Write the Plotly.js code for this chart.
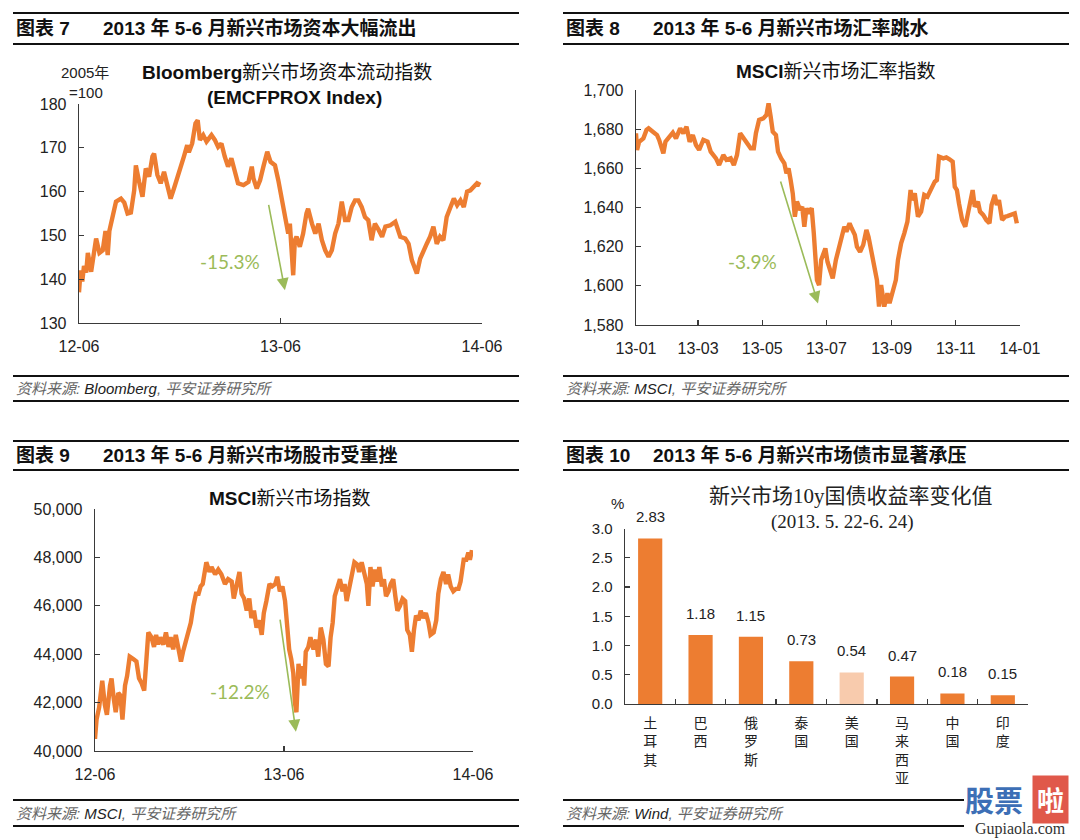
<!DOCTYPE html>
<html>
<head>
<meta charset="utf-8">
<script src="https://cdn.plot.ly/plotly-3.0.1.min.js"></script>
<style>html,body{margin:0;padding:0;background:#fff;}#chart{width:1080px;height:840px;}</style>
</head>
<body>
<div id="chart"></div>
<script>
// ---------- Panel 7: Bloomberg EM capital flow index ----------
const p1Dates = [
 '2012-06-01','2012-06-04','2012-06-07','2012-06-10','2012-06-14','2012-06-17','2012-06-23','2012-06-29',
 '2012-07-02','2012-07-08','2012-07-14','2012-07-19','2012-07-23','2012-07-26',
 '2012-08-01','2012-08-07','2012-08-16','2012-08-22','2012-08-28',
 '2012-09-03','2012-09-09','2012-09-12','2012-09-18','2012-09-24','2012-09-30',
 '2012-10-06','2012-10-12','2012-10-15','2012-10-21','2012-10-27',
 '2012-11-02','2012-11-08','2012-11-14','2012-11-20','2012-11-29',
 '2012-12-08','2012-12-14','2012-12-17','2012-12-23','2012-12-29',
 '2013-01-02','2013-01-06','2013-01-12','2013-01-18','2013-01-27',
 '2013-02-02','2013-02-08','2013-02-14','2013-02-20','2013-02-26',
 '2013-03-04','2013-03-10','2013-03-16','2013-03-26',
 '2013-04-04','2013-04-10','2013-04-13','2013-04-19','2013-04-25',
 '2013-05-01','2013-05-08','2013-05-14','2013-05-22','2013-05-28',
 '2013-06-03','2013-06-09','2013-06-12','2013-06-15','2013-06-18','2013-06-21','2013-06-24','2013-06-27','2013-06-30',
 '2013-07-06','2013-07-12','2013-07-18','2013-07-21','2013-07-28',
 '2013-08-03','2013-08-09','2013-08-15','2013-08-21','2013-08-27',
 '2013-09-02','2013-09-08','2013-09-14','2013-09-20','2013-09-26',
 '2013-10-02','2013-10-08','2013-10-14','2013-10-20','2013-10-26',
 '2013-11-01','2013-11-07','2013-11-13','2013-11-19','2013-11-26',
 '2013-12-02','2013-12-08','2013-12-17','2013-12-26',
 '2014-01-04','2014-01-13','2014-01-19','2014-01-25','2014-01-31',
 '2014-02-03','2014-02-09','2014-02-15','2014-02-21','2014-02-27',
 '2014-03-05','2014-03-11','2014-03-17','2014-03-23','2014-03-29',
 '2014-04-05','2014-04-11','2014-04-17','2014-04-23','2014-04-29',
 '2014-05-05','2014-05-11','2014-05-17','2014-05-23','2014-05-29'
];
const p1Values = [
 137.0,142.0,139.5,143.0,141.5,146.0,141.7,147.0,
 149.3,146.0,146.6,151.0,145.5,151.0,
 155.0,157.7,158.4,157.5,155.0,
 155.2,160.3,166.0,162.2,158.8,165.3,
 163.4,168.0,168.7,163.8,161.9,
 164.5,161.5,158.4,160.7,164.1,
 168.0,170.6,169.0,171.0,175.6,
 176.3,171.8,172.9,171.4,172.9,
 171.8,170.2,171.0,168.0,165.7,
 167.6,164.9,161.9,161.5,
 162.2,165.7,163.0,160.7,162.6,
 165.7,169.1,166.8,166.0,162.6,
 158.8,155.0,153.5,150.4,152.7,145.1,140.9,148.9,149.7,
 147.4,150.4,155.0,156.1,152.7,
 150.4,152.7,148.9,146.6,145.1,
 146.6,150.4,152.7,157.7,153.5,
 153.5,156.5,158.0,158.0,156.5,
 154.2,153.5,148.9,152.7,151.2,
 149.7,152.0,152.3,153.1,
 149.7,149.3,148.1,144.3,142.4,
 141.3,144.7,146.6,148.1,149.7,
 152.0,148.1,149.7,148.9,154.2,
 156.5,158.4,156.9,158.0,156.5,
 160.0,160.3,161.1,161.9,161.5
];
const p1Arrow = {fromDate:'2013-05-10', fromVal:157.3, toDate:'2013-06-09', toVal:137.5, label:'-15.3%', labelDate:'2013-03-01', labelVal:144};

// ---------- Panel 8: MSCI EM currency index ----------
const p2Dates = [
 '2013-01-01','2013-01-02','2013-01-04','2013-01-08','2013-01-11','2013-01-13','2013-01-17','2013-01-21','2013-01-23','2013-01-27','2013-01-29',
 '2013-02-02','2013-02-05','2013-02-08','2013-02-12','2013-02-15','2013-02-18','2013-02-21','2013-02-24','2013-02-27',
 '2013-03-02','2013-03-06','2013-03-10','2013-03-13','2013-03-18','2013-03-21','2013-03-25','2013-03-28',
 '2013-04-01','2013-04-04','2013-04-07','2013-04-10','2013-04-13','2013-04-16','2013-04-20','2013-04-23','2013-04-25','2013-04-28',
 '2013-05-02','2013-05-05','2013-05-07','2013-05-09','2013-05-11','2013-05-14','2013-05-16','2013-05-19','2013-05-22','2013-05-24','2013-05-26','2013-05-28','2013-05-30',
 '2013-06-01','2013-06-03','2013-06-06','2013-06-08','2013-06-10','2013-06-12','2013-06-14','2013-06-16','2013-06-17','2013-06-19','2013-06-21','2013-06-22','2013-06-24','2013-06-26','2013-06-30',
 '2013-07-02','2013-07-05','2013-07-07','2013-07-10','2013-07-13','2013-07-15','2013-07-18','2013-07-20','2013-07-23','2013-07-25','2013-07-28','2013-07-30',
 '2013-08-02','2013-08-05','2013-08-08','2013-08-10','2013-08-13','2013-08-15','2013-08-18','2013-08-20','2013-08-22','2013-08-25','2013-08-28','2013-08-30',
 '2013-09-02','2013-09-05','2013-09-07','2013-09-10','2013-09-13','2013-09-16','2013-09-19','2013-09-20','2013-09-23','2013-09-26','2013-09-29',
 '2013-10-02','2013-10-05','2013-10-09','2013-10-12','2013-10-14','2013-10-16','2013-10-20','2013-10-23','2013-10-26','2013-10-29','2013-10-31',
 '2013-11-02','2013-11-04','2013-11-07','2013-11-10','2013-11-13','2013-11-17','2013-11-19','2013-11-22','2013-11-24','2013-11-27','2013-11-30',
 '2013-12-03','2013-12-05','2013-12-08','2013-12-10','2013-12-12','2013-12-15','2013-12-18','2013-12-20','2013-12-24','2013-12-27','2013-12-29'
];
const p2Values = [
 1677.9,1669.4,1673.6,1675.3,1679.6,1680.4,1678.7,1677.0,1674.5,1667.7,1673.6,
 1676.2,1678.2,1675.3,1680.4,1677.9,1681.3,1673.6,1677.0,1671.9,
 1669.4,1674.5,1673.6,1668.5,1665.1,1661.7,1666.8,1664.3,
 1665.1,1661.7,1666.8,1677.9,1675.3,1672.8,1670.2,1670.2,1677.9,1684.7,
 1685.5,1687.2,1693.2,1686.4,1678.7,1677.0,1668.5,1665.1,1662.6,1657.4,1660.0,1654.0,1647.2,
 1635.3,1643.0,1638.7,1640.4,1630.2,1639.6,1637.0,1639.6,1639.6,1626.8,1609.8,1603.0,1600.4,1613.2,1619.1,
 1612.3,1607.2,1603.8,1613.2,1620.0,1625.1,1630.2,1627.7,1631.9,1629.4,1626.0,1620.0,
 1617.4,1620.9,1628.5,1625.1,1617.4,1609.8,1603.0,1589.4,1600.4,1589.4,1596.2,1591.1,
 1597.0,1603.0,1613.2,1621.7,1626.8,1632.8,1648.9,1643.8,1647.2,1635.3,1637.9,
 1646.4,1645.5,1650.6,1653.2,1654.0,1666.0,1665.1,1665.6,1664.6,1663.4,1650.6,
 1648.9,1642.1,1633.6,1630.2,1638.7,1648.9,1640.4,1643.0,1637.9,1636.2,1633.6,
 1631.9,1641.3,1646.4,1641.3,1643.8,1633.6,1635.3,1635.6,1636.2,1637.0,1631.9
];
const p2Arrow = {fromDate:'2013-05-18', fromVal:1654, toDate:'2013-06-23', toVal:1591, label:'-3.9%', labelDate:'2013-04-22', labelVal:1612.3};

// ---------- Panel 9: MSCI EM index ----------
const p3Dates = [
 '2012-06-01','2012-06-04','2012-06-09','2012-06-15','2012-06-20','2012-06-24','2012-06-30',
 '2012-07-03','2012-07-07','2012-07-11','2012-07-16','2012-07-20','2012-07-24','2012-07-29',
 '2012-08-02','2012-08-07','2012-08-14','2012-08-20','2012-08-25','2012-08-30',
 '2012-09-04','2012-09-08','2012-09-12','2012-09-18','2012-09-23','2012-09-27',
 '2012-10-01','2012-10-05','2012-10-11','2012-10-16','2012-10-21','2012-10-25','2012-10-30',
 '2012-11-04','2012-11-09','2012-11-14','2012-11-18','2012-11-24','2012-11-28',
 '2012-12-03','2012-12-08','2012-12-13','2012-12-18','2012-12-22','2012-12-26','2012-12-31',
 '2013-01-02','2013-01-08','2013-01-12','2013-01-19','2013-01-25','2013-01-31',
 '2013-02-07','2013-02-13','2013-02-20','2013-02-24',
 '2013-03-01','2013-03-07','2013-03-11','2013-03-16','2013-03-21','2013-03-26','2013-03-30',
 '2013-04-04','2013-04-09','2013-04-14','2013-04-19','2013-04-23','2013-04-28',
 '2013-05-04','2013-05-09','2013-05-15','2013-05-19','2013-05-24','2013-05-29',
 '2013-06-03','2013-06-07','2013-06-11','2013-06-15','2013-06-19','2013-06-22','2013-06-25','2013-06-29',
 '2013-07-03','2013-07-07','2013-07-10','2013-07-13','2013-07-18','2013-07-22','2013-07-28',
 '2013-08-02','2013-08-06','2013-08-11','2013-08-16','2013-08-21','2013-08-26','2013-08-30',
 '2013-09-03','2013-09-07','2013-09-12','2013-09-17','2013-09-22','2013-09-26','2013-09-30',
 '2013-10-05','2013-10-10','2013-10-15','2013-10-21','2013-10-24','2013-10-29',
 '2013-11-03','2013-11-08','2013-11-11','2013-11-15','2013-11-19','2013-11-24','2013-11-28',
 '2013-12-02','2013-12-07','2013-12-11','2013-12-15','2013-12-20','2013-12-24','2013-12-29',
 '2014-01-02','2014-01-06','2014-01-11','2014-01-16','2014-01-21','2014-01-25','2014-01-30',
 '2014-02-03','2014-02-07','2014-02-11','2014-02-16','2014-02-20','2014-02-25',
 '2014-03-02','2014-03-07','2014-03-11','2014-03-17','2014-03-22','2014-03-26','2014-03-31',
 '2014-04-05','2014-04-10','2014-04-14','2014-04-19','2014-04-24','2014-04-29',
 '2014-05-04','2014-05-08','2014-05-14','2014-05-19','2014-05-23','2014-05-26','2014-05-30'
];
const p3Values = [
 40500,41300,41800,42900,41900,41500,42700,
 43000,42200,41600,42400,42300,41300,42700,
 43100,43900,43800,43700,43000,42800,
 42500,43500,44900,44700,44300,44800,
 44400,44700,44400,44900,44300,44700,44200,
 44800,44300,43700,44100,44600,45000,
 45300,46000,46500,46500,46800,46900,47500,
 47800,47400,47600,47300,47500,47300,
 46900,47100,47000,46300,
 46800,47400,46500,46300,45800,46300,45500,
 45800,45100,45400,44800,45700,46200,
 46900,46800,46900,47200,46600,46800,
 46200,45200,44200,43800,43200,42000,41600,43600,
 43000,43500,42700,44100,44300,44700,44200,
 44600,43900,45100,44600,43600,43500,44700,
 45300,46400,46800,47100,46600,46900,46200,
 46700,47300,47800,47700,47400,47800,
 47300,46900,46000,47600,46800,47500,47000,
 47600,46800,47100,46400,46600,46900,47100,
 46400,45800,46000,46300,46200,45000,44800,
 44100,45000,45600,45400,45800,45500,
 45700,45300,44800,44900,45400,46500,47100,
 47400,46900,47300,46800,46600,46700,
 46700,47000,47900,47900,48200,47900,48300
];
const p3Arrow = {fromDate:'2013-05-24', fromVal:45490, toDate:'2013-06-24', toVal:40800, label:'-12.2%', labelDate:'2013-03-08', labelVal:42455};

// ---------- Panel 10: EM 10y government bond yield change ----------
const p4Countries = ['土耳其','巴西','俄罗斯','泰国','美国','马来西亚','中国','印度'];
const p4Values = [2.83, 1.18, 1.15, 0.73, 0.54, 0.47, 0.18, 0.15];
const p4Highlight = '美国';

// ---------- Texts ----------
const headers = [
  {num:'图表 7', text:'2013 年 5-6 月新兴市场资本大幅流出'},
  {num:'图表 8', text:'2013 年 5-6 月新兴市场汇率跳水'},
  {num:'图表 9', text:'2013 年 5-6 月新兴市场股市受重挫'},
  {num:'图表 10', text:'2013 年 5-6 月新兴市场债市显著承压'}
];
const sources = ['Bloomberg', 'MSCI', 'MSCI', 'Wind'];

// ---------- Styling / layout helpers ----------
const W = 1080, H = 840;
const px = x => x / W;
const py = y => 1 - y / H;
const SANS = 'Liberation Sans, Arial, "Noto Sans CJK SC", sans-serif';
const SERIF = 'Liberation Serif, "Times New Roman", "Noto Sans CJK SC", serif';
const ORANGE = '#ED7D31';
const LIGHT = '#F8CBAD';
const GREEN = '#9BBB59';
const AXC = '#3a3a3a';
const TXT = '#222222';

function lineTrace(x, y, xa, ya) {
  return {x: x, y: y, xaxis: xa, yaxis: ya, type: 'scatter', mode: 'lines',
          line: {color: ORANGE, width: 4.4}, hoverinfo: 'skip'};
}
const traces = [
  lineTrace(p1Dates, p1Values, 'x', 'y'),
  lineTrace(p2Dates, p2Values, 'x2', 'y2'),
  lineTrace(p3Dates, p3Values, 'x3', 'y3'),
  {x: p4Countries, y: p4Values, xaxis: 'x4', yaxis: 'y4', type: 'bar',
   marker: {color: p4Countries.map(c => c === p4Highlight ? LIGHT : ORANGE)},
   width: 0.48, hoverinfo: 'skip'}
];

function axisBase(extra) {
  return Object.assign({
    showline: true, linecolor: AXC, linewidth: 1.3, showgrid: false, zeroline: false,
    ticks: 'inside', ticklen: 5, tickwidth: 1.3, tickcolor: AXC,
    tickfont: {family: SANS, size: 16, color: TXT}, fixedrange: true
  }, extra);
}

const layout = {
  width: W, height: H, margin: {l: 0, r: 0, t: 0, b: 0},
  paper_bgcolor: '#ffffff', plot_bgcolor: 'rgba(0,0,0,0)', showlegend: false,
  font: {family: SANS, color: TXT},
  xaxis: axisBase({domain: [px(79), px(482)], anchor: 'y', type: 'date',
    range: ['2012-06-01', '2014-06-01'], tick0: '2012-06-01', dtick: 'M12', tickformat: '%y-%m', ticklabelstandoff: 8}),
  yaxis: axisBase({domain: [py(323), py(104)], anchor: 'x', range: [130, 180], dtick: 10, ticklabelstandoff: 8}),
  xaxis2: axisBase({domain: [px(636), px(1020)], anchor: 'y2', type: 'date',
    range: ['2013-01-01', '2014-01-01'], tick0: '2013-01-01', dtick: 'M2', tickformat: '%y-%m', ticklabelstandoff: 8}),
  yaxis2: axisBase({domain: [py(325), py(90)], anchor: 'x2', range: [1580, 1700], dtick: 20, tickformat: ',d', ticklabelstandoff: 8}),
  xaxis3: axisBase({domain: [px(95), px(473)], anchor: 'y3', type: 'date',
    range: ['2012-06-01', '2014-06-01'], tick0: '2012-06-01', dtick: 'M12', tickformat: '%y-%m', ticklabelstandoff: 8}),
  yaxis3: axisBase({domain: [py(751), py(509)], anchor: 'x3', range: [40000, 50000], dtick: 2000, tickformat: ',d', ticklabelstandoff: 8}),
  xaxis4: axisBase({domain: [px(625), px(1028)], anchor: 'y4', type: 'category', range: [-0.5, 7.5],
    tickson: 'boundaries', tickvals: p4Countries, ticktext: p4Countries.map(c => c.split('').join('<br>')),
    tickfont: {family: '"Noto Sans CJK SC", sans-serif', size: 14, color: TXT}, ticklabelstandoff: 6}),
  yaxis4: axisBase({domain: [py(704), py(528.5)], anchor: 'x4', range: [0, 3], dtick: 0.5, tickformat: '.1f',
    tickfont: {family: SANS, size: 15, color: TXT}, ticklabelstandoff: 8}),
  bargap: 0.52,
  shapes: [],
  annotations: []
};

// header / footer rules
const panelX = [[13, 519], [563, 1069], [13, 519], [563, 1069]];
const headerY = [[13, 44], [13, 44], [441, 470], [441, 470]];
const footerY = [[376, 401], [376, 401], [800, 826], [800, 826]];
function hline(x0, x1, y) {
  layout.shapes.push({type: 'line', xref: 'paper', yref: 'paper', x0: px(x0), x1: px(x1), y0: py(y), y1: py(y),
    line: {color: '#111', width: 2}});
}
for (let i = 0; i < 4; i++) {
  const [xa, xb] = panelX[i];
  hline(xa, xb, headerY[i][0]); hline(xa, xb, headerY[i][1]);
  const fEnd = i === 3 ? 964 : xb;
  hline(xa, fEnd, footerY[i][0]); hline(xa, fEnd, footerY[i][1]);
  const hy = (headerY[i][0] + headerY[i][1]) / 2;
  layout.annotations.push({xref: 'paper', yref: 'paper', x: px(xa + 1), y: py(hy), xanchor: 'left', yanchor: 'middle',
    showarrow: false, text: '<b>' + headers[i].num + '</b>', font: {family: SANS, size: 19, color: '#111'}});
  layout.annotations.push({xref: 'paper', yref: 'paper', x: px(xa + 88), y: py(hy), xanchor: 'left', yanchor: 'middle',
    showarrow: false, text: '<b>' + headers[i].text + '</b>', font: {family: SANS, size: 19, color: '#111'}});
  const fy = (footerY[i][0] + footerY[i][1]) / 2;
  layout.annotations.push({xref: 'paper', yref: 'paper', x: px(xa + 1), y: py(fy), xanchor: 'left', yanchor: 'middle',
    showarrow: false, text: '<i>资料来源: <span style="color:#222">' + sources[i] + '</span>, 平安证券研究所</i>',
    font: {family: SANS, size: 15, color: '#666'}});
}

// chart titles
function ptext(x, y, text, font, xanchor) {
  layout.annotations.push({xref: 'paper', yref: 'paper', x: px(x), y: py(y), xanchor: xanchor || 'center', yanchor: 'middle',
    showarrow: false, text: text, font: font});
}
ptext(287, 72, '<b>Bloomberg</b>新兴市场资本流动指数', {family: SANS, size: 19, color: '#111'});
ptext(294, 97, '<b>(EMCFPROX Index)</b>', {family: SANS, size: 19, color: '#111'});
ptext(85, 72, '2005年', {family: SANS, size: 15, color: TXT});
ptext(86, 92, '=100', {family: SANS, size: 15, color: TXT});
ptext(836, 71, '<b>MSCI</b>新兴市场汇率指数', {family: SANS, size: 19, color: '#111'});
ptext(290, 498, '<b>MSCI</b>新兴市场指数', {family: SANS, size: 19, color: '#111'});
ptext(851, 496, '新兴市场10y国债收益率变化值', {family: SERIF, size: 21, color: '#222'});
ptext(842, 522, '(2013. 5. 22-6. 24)', {family: SERIF, size: 19, color: '#222'});
ptext(617, 503, '%', {family: SANS, size: 15, color: TXT});

// arrows + percentage labels
function arrow(a, xa, ya) {
  layout.annotations.push({xref: xa, yref: ya, axref: xa, ayref: ya, x: a.toDate, y: a.toVal, ax: a.fromDate, ay: a.fromVal,
    text: '', showarrow: true, arrowhead: 2, arrowsize: 1.5, arrowwidth: 1.6, arrowcolor: GREEN});
  layout.annotations.push({xref: xa, yref: ya, x: a.labelDate, y: a.labelVal, text: a.label, showarrow: false,
    xanchor: 'center', yanchor: 'middle', font: {family: 'Lato, "Open Sans", sans-serif', size: 19, color: GREEN}});
}
arrow(p1Arrow, 'x', 'y');
arrow(p2Arrow, 'x2', 'y2');
arrow(p3Arrow, 'x3', 'y3');

// bar value labels
p4Countries.forEach((c, i) => {
  layout.annotations.push({xref: 'x4', yref: 'y4', x: c, y: p4Values[i], text: p4Values[i].toFixed(2), showarrow: false,
    yanchor: 'bottom', yshift: 11, font: {family: SANS, size: 15, color: TXT}});
});

// watermark
ptext(994, 799, '<b>股票</b>', {family: '"Noto Sans CJK SC", sans-serif', size: 29, color: '#3d6fb6'});
layout.annotations.push({xref: 'paper', yref: 'paper', x: px(1050), y: py(799), xanchor: 'center', yanchor: 'middle',
  showarrow: false, text: '<b>啦</b>', bgcolor: '#e0584a', borderpad: 4,
  font: {family: '"Noto Sans CJK SC", sans-serif', size: 27, color: '#ffffff'}});
ptext(1020, 829, 'Gupiaola.com', {family: SERIF, size: 16, color: '#333'});

Plotly.newPlot('chart', traces, layout, {displayModeBar: false, staticPlot: true});
</script>
</body>
</html>
